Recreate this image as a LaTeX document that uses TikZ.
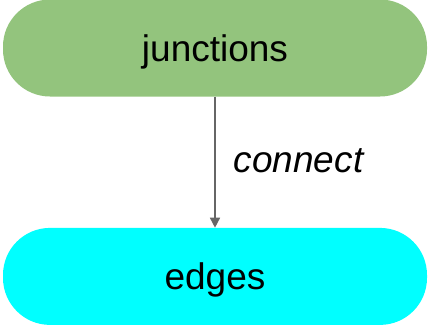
\documentclass[tikz,border=0pt]{standalone}
\usepackage{fontspec}
\setmainfont{Liberation Sans}
\usetikzlibrary{arrows.meta, positioning}

\definecolor{junctiongreen}{HTML}{93C47D}
\definecolor{edgecyan}{HTML}{00FFFF}
\definecolor{arrowgray}{HTML}{666666}

\tikzset{
	pill/.style={rectangle, rounded corners=47pt, minimum width=424pt, minimum height=97pt,
		inner sep=0pt, text height=26pt, text depth=0pt, font=\fontsize{37}{40}\selectfont},
	link/.style={-{Triangle[length=10pt, width=10pt]}, line width=1.5pt, arrowgray},
}

\begin{document}
\begin{tikzpicture}[x=1pt, y=1pt]
			\useasboundingbox (0,0) rectangle (428,-325);
			
			% Boxes
			\node[pill, fill=junctiongreen] (junctions) at (215,-48) {junctions};
			\node[pill, fill=edgecyan, below=131pt of junctions] (edges) {edges};
			
			% Relation
			\draw[link] (junctions) -- (edges)
				node[midway, right=18pt, yshift=2.5pt, inner sep=0pt, text height=26pt, text depth=0pt,
				text=black, font=\fontsize{37}{40}\selectfont\itshape] (connect) {connect};
		\end{tikzpicture}
\end{document}
